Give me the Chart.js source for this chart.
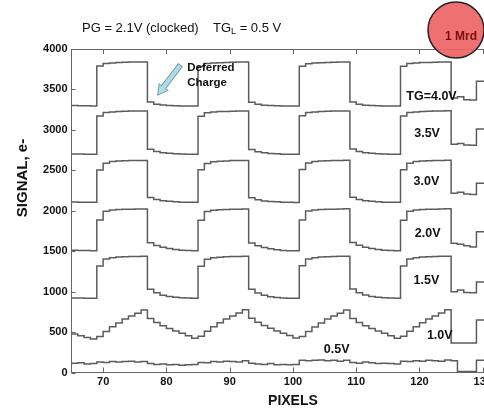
<!DOCTYPE html>
<html>
<head>
<meta charset="utf-8">
<script src="https://cdn.jsdelivr.net/npm/chart.js@4.4.1/dist/chart.umd.min.js"></script>
<style>
  html, body { margin: 0; padding: 0; background: #fff; overflow: hidden; }
  #wrap { width: 530px; height: 408px; }
</style>
</head>
<body>
<div id="wrap"><canvas id="myChart" width="530" height="408"></canvas></div>
<script>
// pixel index along the register (last two points close off the trace)
const pixels = [
  65, 66, 67, 68, 69,
  70, 71, 72, 73, 74, 75, 76, 77,
  78, 79, 80, 81, 82, 83, 84, 85,
  86, 87, 88, 89, 90, 91, 92, 93,
  94, 95, 96, 97, 98, 99, 100, 101,
  102, 103, 104, 105, 106, 107, 108, 109,
  110, 111, 112, 113, 114, 115, 116, 117,
  118, 119, 120, 121, 122, 123, 124, 125,
  126, 127, 128, 129, 129.5, 131
];

// signal (e-) per pixel for each transfer gate voltage
const tg40 = [
  3300, 3300, 3298, 3298, 3296,
  3790, 3822, 3828, 3832, 3835, 3838, 3838, 3840,
  3345, 3318, 3308, 3302, 3298, 3296, 3294, 3294,
  3785, 3820, 3826, 3830, 3834, 3836, 3838, 3838,
  3342, 3316, 3306, 3300, 3298, 3296, 3295, 3294,
  3788, 3818, 3826, 3830, 3834, 3836, 3838, 3840,
  3346, 3318, 3306, 3302, 3298, 3296, 3295, 3294,
  3786, 3820, 3828, 3832, 3834, 3836, 3838, 3840,
  3395, 3410, 3372, 3370, 3600, 3600
];
const tg35 = [
  2705, 2703, 2702, 2700, 2700,
  3172, 3214, 3222, 3226, 3230, 3232, 3232, 3234,
  2760, 2732, 2718, 2710, 2705, 2702, 2700, 2698,
  3170, 3212, 3220, 3226, 3228, 3230, 3232, 3232,
  2758, 2730, 2716, 2708, 2704, 2700, 2700, 2698,
  3174, 3216, 3222, 3228, 3230, 3232, 3234, 3234,
  2762, 2734, 2718, 2710, 2704, 2702, 2700, 2698,
  3172, 3214, 3222, 3226, 3230, 3232, 3234, 3236,
  2822, 2832, 2812, 2810, 3010, 3010
];
const tg30 = [
  2110, 2108, 2106, 2105, 2104,
  2505, 2588, 2608, 2614, 2618, 2620, 2622, 2622,
  2165, 2138, 2124, 2116, 2110, 2106, 2104, 2104,
  2508, 2585, 2606, 2612, 2616, 2620, 2620, 2622,
  2162, 2136, 2122, 2114, 2110, 2106, 2104, 2102,
  2510, 2590, 2610, 2615, 2618, 2620, 2622, 2624,
  2166, 2140, 2125, 2116, 2110, 2106, 2104, 2104,
  2506, 2588, 2608, 2614, 2618, 2620, 2622, 2624,
  2215, 2228, 2206, 2200, 2340, 2340
];
const tg20 = [
  1515, 1512, 1510, 1508, 1506,
  1885, 1995, 2008, 2014, 2018, 2020, 2022, 2022,
  1605, 1570, 1548, 1532, 1520, 1512, 1507, 1505,
  1882, 1992, 2006, 2012, 2016, 2020, 2020, 2022,
  1602, 1568, 1546, 1530, 1518, 1510, 1506, 1504,
  1886, 1996, 2008, 2014, 2018, 2020, 2022, 2024,
  1606, 1572, 1550, 1532, 1520, 1512, 1508, 1505,
  1884, 1994, 2008, 2014, 2018, 2020, 2022, 2024,
  1598, 1585, 1568, 1552, 1740, 1740
];
const tg15 = [
  925, 922, 920, 918, 917,
  1318, 1402, 1420, 1428, 1432, 1434, 1435, 1436,
  1030, 985, 956, 940, 930, 924, 920, 918,
  1315, 1400, 1418, 1426, 1430, 1434, 1434, 1436,
  1028, 982, 954, 938, 928, 922, 919, 917,
  1320, 1404, 1420, 1428, 1432, 1434, 1436, 1436,
  1032, 986, 958, 940, 930, 924, 920, 918,
  1318, 1402, 1420, 1428, 1432, 1434, 1436, 1438,
  1000, 1020, 988, 985, 1120, 1120
];
const tg10 = [
  504, 476, 455, 432, 414,
  445, 508, 565, 612, 660, 698, 732, 772,
  668, 618, 578, 545, 512, 485, 455, 425,
  448, 510, 566, 614, 662, 700, 735, 775,
  670, 620, 580, 546, 514, 486, 456, 426,
  446, 508, 564, 612, 660, 698, 734, 774,
  668, 618, 578, 544, 512, 484, 455, 424,
  448, 510, 566, 614, 662, 700, 736, 776,
  365, 365, 365, 365, 650, 650
];
const tg05 = [
  95, 115, 120, 105, 110,
  130, 125, 135, 130, 135, 140, 130, 135,
  110, 100, 105, 95, 100, 90, 95, 100,
  125, 120, 135, 130, 140, 135, 130, 145,
  115, 105, 100, 110, 95, 100, 95, 100,
  150, 145, 150, 155, 145, 150, 140, 150,
  125, 115, 130, 120, 110, 115, 110, 105,
  140, 135, 145, 140, 150, 145, 140, 155,
  145, 12, 12, 12, 150, 150
];

const xTicks = [70, 80, 90, 100, 110, 120, 130];
const yTicks = [0, 500, 1000, 1500, 2000, 2500, 3000, 3500, 4000];

// voltage tags next to each trace (pixel, signal)
const curveLabels = [
  { text: "TG=4.0V", x: 121.9, y: 3409 },
  { text: "3.5V", x: 121.2, y: 2960 },
  { text: "3.0V", x: 121.1, y: 2358 },
  { text: "2.0V", x: 121.3, y: 1724 },
  { text: "1.5V", x: 121.1, y: 1143 },
  { text: "1.0V", x: 123.2, y: 463 },
  { text: "0.5V", x: 106.9, y: 287 },
];

const series = [tg40, tg35, tg30, tg20, tg15, tg10, tg05];

const data = {
  datasets: series.map((vals) => ({
    data: pixels.map((p, i) => ({ x: p, y: vals[i] })),
    borderColor: "#5c5c5c",
    borderWidth: 1.5,
    pointRadius: 0,
    stepped: "after",
    fill: false,
  })),
};

// frame, inward ticks, annotations, header
const decorations = {
  id: "decorations",
  afterDraw(chart) {
    const { ctx, chartArea: a, scales: { x, y } } = chart;
    ctx.save();

    ctx.strokeStyle = "#666";
    ctx.lineWidth = 1;
    ctx.beginPath();
    ctx.moveTo(a.left, a.top + 0.5);
    ctx.lineTo(a.right, a.top + 0.5);
    xTicks.forEach((v) => {
      const px = Math.round(x.getPixelForValue(v)) + 0.5;
      ctx.moveTo(px, a.bottom);
      ctx.lineTo(px, a.bottom - 5);
      ctx.moveTo(px, a.top);
      ctx.lineTo(px, a.top + 5);
    });
    yTicks.forEach((v) => {
      const py = Math.round(y.getPixelForValue(v)) + 0.5;
      ctx.moveTo(a.left, py);
      ctx.lineTo(a.left + 4, py);
    });
    ctx.stroke();

    // trace labels
    ctx.fillStyle = "#111";
    ctx.textAlign = "center";
    ctx.textBaseline = "middle";
    ctx.font = "bold 12.5px Arial, 'Liberation Sans', sans-serif";
    curveLabels.forEach((l) => {
      ctx.fillText(l.text, x.getPixelForValue(l.x), y.getPixelForValue(l.y));
    });

    // deferred charge note with arrow
    ctx.font = "bold 11.5px Arial, 'Liberation Sans', sans-serif";
    ctx.textAlign = "left";
    ctx.fillText("Deferred", x.getPixelForValue(83.3), y.getPixelForValue(3764));
    ctx.fillText("Charge", x.getPixelForValue(83.3), y.getPixelForValue(3578));

    const tx = x.getPixelForValue(82.2), ty = y.getPixelForValue(3801);
    const hx = x.getPixelForValue(78.6), hy = y.getPixelForValue(3430);
    const ang = Math.atan2(hy - ty, hx - tx);
    const len = Math.hypot(hx - tx, hy - ty);
    ctx.save();
    ctx.translate(tx, ty);
    ctx.rotate(ang);
    ctx.beginPath();
    ctx.moveTo(0, -2.5);
    ctx.lineTo(len - 10, -2.5);
    ctx.lineTo(len - 10, -5.5);
    ctx.lineTo(len, 0);
    ctx.lineTo(len - 10, 5.5);
    ctx.lineTo(len - 10, 2.5);
    ctx.lineTo(0, 2.5);
    ctx.closePath();
    ctx.fillStyle = "#a9dde8";
    ctx.fill();
    ctx.strokeStyle = "#7f9fa8";
    ctx.lineWidth = 1;
    ctx.stroke();
    ctx.restore();

    // header line
    ctx.fillStyle = "#111";
    ctx.textBaseline = "middle";
    ctx.font = "13px Arial, 'Liberation Sans', sans-serif";
    ctx.fillText("PG = 2.1V (clocked)", 82, 28);
    let hxPos = 213;
    ctx.fillText("TG", hxPos, 28);
    hxPos += ctx.measureText("TG").width;
    ctx.font = "9px Arial, 'Liberation Sans', sans-serif";
    ctx.fillText("L", hxPos, 32);
    hxPos += ctx.measureText("L").width;
    ctx.font = "13px Arial, 'Liberation Sans', sans-serif";
    ctx.fillText(" = 0.5 V", hxPos, 28);

    // y axis title
    ctx.save();
    ctx.translate(23, 178);
    ctx.rotate(-Math.PI / 2);
    ctx.textAlign = "center";
    ctx.font = "bold 15px Arial, 'Liberation Sans', sans-serif";
    ctx.fillText("SIGNAL, e-", 0, 0);
    ctx.restore();

    // dose badge
    ctx.beginPath();
    ctx.arc(456, 30, 28, 0, Math.PI * 2);
    ctx.fillStyle = "rgba(238, 100, 100, 0.92)";
    ctx.fill();
    ctx.strokeStyle = "#222";
    ctx.lineWidth = 1.5;
    ctx.stroke();
    ctx.fillStyle = "#7a0f0f";
    ctx.textAlign = "center";
    ctx.font = "bold 12px Arial, 'Liberation Sans', sans-serif";
    ctx.fillText("1 Mrd", 461, 37);

    ctx.restore();
  },
};

const tickFont = { family: "Arial, 'Liberation Sans', sans-serif", size: 11, weight: "bold" };

const config = {
  type: "line",
  data,
  options: {
    responsive: false,
    animation: false,
    layout: { padding: { top: 49, right: 15.6, left: 0, bottom: 0 } },
    scales: {
      x: {
        type: "linear",
        min: 65,
        max: 135,
        afterBuildTicks: (scale) => {
          scale.ticks = xTicks.map((v) => ({ value: v }));
        },
        afterFit: (scale) => {
          scale.height = 35.5;
        },
        ticks: {
          padding: 3,
          color: "#111",
          font: tickFont,
          callback: (v) => String(v),
        },
        grid: { display: false, drawTicks: false },
        border: { color: "#666" },
        title: {
          display: true,
          text: "PIXELS",
          color: "#111",
          padding: 0,
          font: { family: "Arial, 'Liberation Sans', sans-serif", size: 14, weight: "bold", lineHeight: 1 },
        },
      },
      y: {
        type: "linear",
        min: 0,
        max: 4000,
        afterBuildTicks: (scale) => {
          scale.ticks = yTicks.map((v) => ({ value: v }));
        },
        afterFit: (scale) => {
          scale.width = 71.5;
        },
        ticks: {
          padding: 4,
          color: "#111",
          font: tickFont,
          callback: (v) => String(v),
        },
        grid: { display: false, drawTicks: false },
        border: { color: "#666" },
      },
    },
    plugins: {
      legend: { display: false },
      tooltip: { enabled: false },
    },
  },
  plugins: [decorations],
};

const myChart = new Chart(document.getElementById("myChart"), config);
</script>
</body>
</html>
